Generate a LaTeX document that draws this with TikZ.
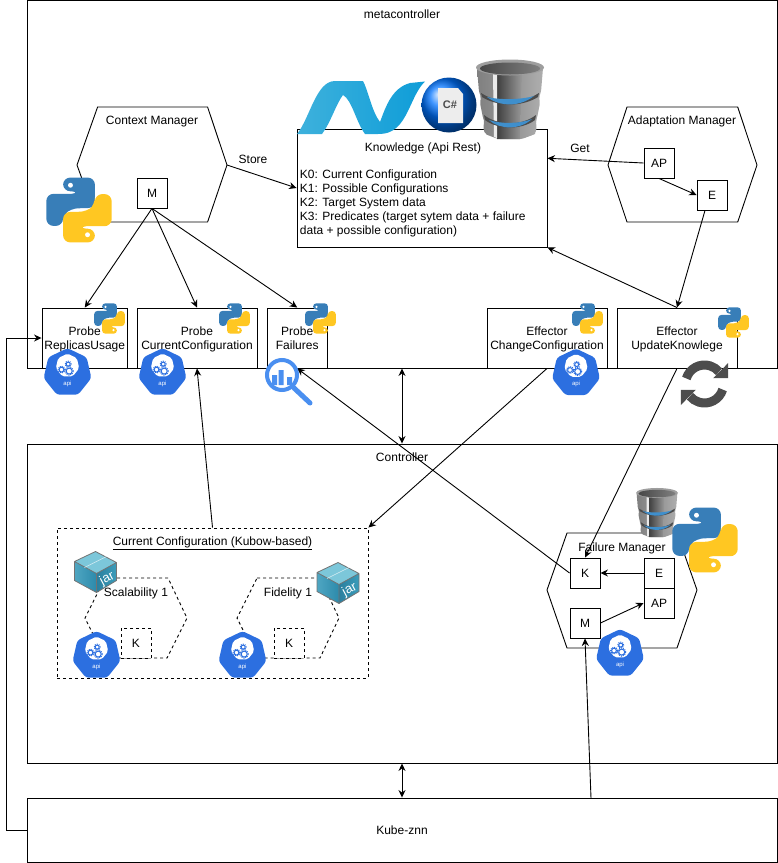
\documentclass[tikz,border=0pt]{standalone}
\usepackage{fontspec}
\setmainfont{Liberation Sans}
\usetikzlibrary{arrows.meta,calc}
\definecolor{pyblue}{HTML}{387EB8}
\definecolor{pyyellow}{HTML}{FFC722}
\definecolor{apiblue}{HTML}{2C6FE0}
\definecolor{lensblue}{HTML}{4A8FF0}
\definecolor{syncgrey}{HTML}{4D4D4D}
\definecolor{jartop}{HTML}{7CC7DA}
\definecolor{jarleft}{HTML}{4FA6C2}
\definecolor{jarlow}{HTML}{2C8AAB}
\definecolor{jarright}{HTML}{2B7F9E}
\definecolor{jarrim}{HTML}{3B9CBA}
\definecolor{dbband}{HTML}{3F8FCC}
\definecolor{netleft}{HTML}{3EB1DC}
\definecolor{netright}{HTML}{0E9DD8}
\tikzset{
  every node/.style={font=\fontsize{12}{14}\selectfont,text depth=0pt},
  box/.style={draw,align=center,inner sep=0pt,fill=white},
  container/.style={draw,inner sep=0pt,minimum width=750pt},
  pyicon/.pic={
    \begin{scope}[scale=#1/24,shift={(-12,-12)}]
    \fill[pyblue,rounded corners=#1/9*1pt] (6.2,0.2) -- (17.8,0.2) -- (17.8,11.3) -- (9,11.4) -- (6.2,14) -- (6.2,17.8) -- (0.1,17.8) -- (0.1,6.1) -- (12,6.1) -- (12,5.2) -- (6.2,5.2) -- cycle;
    \fill[white] (8.9,3) circle [radius=0.9];
    \begin{scope}[rotate around={180:(12,12)}]
    \fill[pyyellow,rounded corners=#1/9*1pt] (6.2,0.2) -- (17.8,0.2) -- (17.8,11.3) -- (9,11.4) -- (6.2,14) -- (6.2,17.8) -- (0.1,17.8) -- (0.1,6.1) -- (12,6.1) -- (12,5.2) -- (6.2,5.2) -- cycle;
    \fill[white] (8.9,3) circle [radius=0.9];
    \end{scope}
    \end{scope}
  },
  apiicon/.pic={
    \begin{scope}[y=1pt]
    \fill[apiblue,rounded corners=3pt] (90:24.5) -- (141.4:24.5) -- (192.9:24.5) -- (244.3:24.5) -- (295.7:24.5) -- (347.1:24.5) -- (38.6:24.5) -- cycle;
    \fill[white,rounded corners=2pt] ($(0,7)+(90:12)$) -- ($(0,7)+(141.4:12)$) -- ($(0,7)+(192.9:12)$) -- ($(0,7)+(244.3:12)$) -- ($(0,7)+(295.7:12)$) -- ($(0,7)+(347.1:12)$) -- ($(0,7)+(38.6:12)$) -- cycle;
    \draw[apiblue,line width=1pt] (-6,3) circle [radius=2.4] (0.7,8.5) circle [radius=2] (1.7,1.5) circle [radius=3];
    \draw[apiblue,line width=1pt,dash pattern=on 1pt off 1pt] (-6,3) circle [radius=3.4] (0.7,8.5) circle [radius=3] (1.7,1.5) circle [radius=4.1];
    \node[white,font=\fontsize{6}{7}\selectfont,inner sep=0pt] (label) at (0,-10.5) {api};
    \end{scope}
  },
  dbicon/.pic={
    \begin{scope}[scale=#1/68]
    \shade[left color=black!50,middle color=black!52,right color=black!32,rounded corners=#1/34*1pt] (-33,-32) -- (-31,-8) -- (-29,-3) -- (-30,3) -- (-27,18) -- (-25.5,22) -- (-27,27) -- (-25,34) -- (-12,39) -- (12,39) -- (25,34) -- (27,27) -- (25.5,22) -- (27,18) -- (30,3) -- (29,-3) -- (31,-8) -- (33,-32) -- cycle;
    \shade[left color=black!75,right color=black!40] (-13,-26) -- (12,-26) -- (10,39) -- (-13,39) -- cycle;
    \shade[left color=black!40,right color=black!32] (12,-26) -- (31,-30) -- (25,34) -- (10,39) -- cycle;
    \fill[white!92!black] (-17,-26) -- (-13,-25) -- (-13,38) -- (-16,37) -- cycle;
    \fill[black!70] (-29,-7) .. controls (-12,4) and (12,4) .. (29,-7) -- (28,-3) .. controls (12,7) and (-12,7) .. (-28,-3) -- cycle;
    \fill[black!70] (-26,15) .. controls (-12,26) and (12,26) .. (26,15) -- (25,20) .. controls (12,30) and (-12,30) .. (-25,20) -- cycle;
    \fill[dbband] (-23,-3) .. controls (-10,7) and (10,7) .. (24,-4) .. controls (10,0) and (-10,0) .. (-23,-3) -- cycle;
    \fill[dbband] (-21,20) .. controls (-10,30) and (10,30) .. (22,19) .. controls (10,24) and (-10,24) .. (-21,20) -- cycle;
    \fill[black!38] (0,-32.5) ellipse [x radius=34,y radius=8];
    \shade[left color=black!72,right color=black!50] (0,-31.5) ellipse [x radius=30,y radius=6];
    \end{scope}
  },
  jaricon/.pic={
    \fill[jartop,rounded corners=1pt] (0,-20) -- (21,-9) -- (1,2) -- (-21,-10) -- cycle;
    \shade[left color=jarleft,right color=jarlow] (-21,-10) -- (1,2) -- (1,21) -- (-21,9) -- cycle;
    \shade[left color=jarright,right color=jarrim] (21,-9) -- (1,2) -- (1,21) -- (21,9) -- cycle;
    \draw[black!55,line width=0.8pt,line join=round] (0,-20) -- (21,-9) -- (21,9) -- (1,21) -- (-21,9) -- (-21,-10) -- cycle (-21,-10) -- (1,2) -- (21,-9) (1,2) -- (1,21);
    \draw[white!70!jartop,line width=0.6pt] (-11,-4) -- (11,-15);
    \node[white,font=\fontsize{13}{14}\selectfont,rotate=28,inner sep=0pt] (label) at (11,6) {jar};
  },
}
\begin{document}
\begin{tikzpicture}[x=1pt,y=-1pt,>={Stealth[length=7.5pt,width=7pt]},line width=0.9pt]
\useasboundingbox (0,0) rectangle (778,863);
% containers
\node[container,minimum height=367.5pt] (meta) at (402,184.25) {};
\node[container,minimum height=319pt] (ctrl) at (402,603.5) {};
\node[container,minimum height=64pt] (kube) at (402,830) {Kube-znn};
\node (metalabel) at (402,14) {metacontroller};
\node (ctrllabel) at (402,457) {Controller};
% context manager
\draw (97.6,107) -- (207.6,107) -- (227,165) coordinate (ctxright) -- (207.6,222) -- (97.6,222) -- (77,165) -- cycle;
\node (ctxlabel) at (152,120) {Context Manager};
\node[box,minimum width=30pt,minimum height=30pt] (ctxM) at (152,193) {M};
% knowledge
\node[box,fill=none,minimum width=250pt,minimum height=118pt] (know) at (422,188) {};
\node (knowtitle) at (423,147) {Knowledge (Api Rest)};
\node[anchor=west,align=left,inner sep=0pt] (knowtext) at (299.5,202.5) {K0: Current Configuration\\K1: Possible Configurations\\K2: Target System data\\K3: Predicates (target sytem data + failure\\data + possible configuration)};
\node (storelabel) at (253,159) {Store};
\node (getlabel) at (580,148) {Get};
% adaptation manager
\draw (627,107) -- (737.7,107) -- (757,165) -- (737.7,222) -- (627,222) -- (608,165) -- cycle;
\node (adaptlabel) at (682,120) {Adaptation Manager};
\node[box,minimum width=30pt,minimum height=30pt] (adaptAP) at (659,163) {AP};
\node[box,minimum width=30pt,minimum height=30pt] (adaptE) at (712,195) {E};
% probes and effectors
\node[box,minimum width=85.5pt,minimum height=60pt] (probeRep) at (84.75,338) {Probe\\ReplicasUsage};
\node[box,minimum width=120pt,minimum height=60pt] (probeCur) at (197,338) {Probe\\CurrentConfiguration};
\node[box,minimum width=60.5pt,minimum height=60pt] (probeFail) at (297.25,338) {Probe\\Failures};
\node[box,minimum width=120pt,minimum height=60pt] (effChange) at (547,338) {Effector\\ChangeConfiguration};
\node[box,minimum width=120pt,minimum height=60pt] (effUpdate) at (677,338) {Effector\\UpdateKnowlege};
% current configuration
\node[draw,dashed,inner sep=0pt,minimum width=311pt,minimum height=150pt] (config) at (212.5,603) {};
\node (configlabel) at (212.5,541) {\underline{Current Configuration (Kubow-based)}};
\draw [dashed] (105,578) -- (168,578) -- (187,618) -- (167,658) -- (105,658) -- (85,618) -- cycle;
\node (scalelabel) at (136,592) {Scalability 1};
\node[box,dashed,minimum width=30pt,minimum height=30pt] (scaleK) at (136,643) {K};
\draw [dashed] (257,578) -- (320,578) -- (339,618) -- (320,658) -- (257,658) -- (237,618) -- cycle;
\node (fidlabel) at (288,592) {Fidelity 1};
\node[box,dashed,minimum width=30pt,minimum height=30pt] (fidK) at (289,643) {K};
% failure manager
\draw (567,533) -- (677,533) -- (697,590) -- (677,648) -- (567,648) -- (547,590) -- cycle;
\node (faillabel) at (622,547) {Failure Manager};
\node[box,minimum width=30pt,minimum height=30pt] (failK) at (585,573) {K};
\node[box,minimum width=30pt,minimum height=30pt] (failM) at (585,623) {M};
\node[box,minimum width=30pt,minimum height=30pt] (failE) at (659,573) {E};
\node[box,minimum width=30pt,minimum height=30pt] (failAP) at (659,603) {AP};
\coordinate (kubeout) at (591,798);
% connectors
\draw [->] (ctxright) -- (know.west);
\draw [->] (adaptAP.west) -- ($(know.north east)!0.25!(know.south east)$);
\draw [->] (adaptAP.south) -- (adaptE.west);
\draw [->] ([xshift=-7pt]adaptE.south) -- (effUpdate.north);
\draw [->] (effUpdate.north) -- (know.south east);
\draw [->] (ctxM.south) -- (probeRep.north);
\draw [->] (ctxM.south) -- (probeCur.north);
\draw [->] (ctxM.south) -- (probeFail.north);
\draw [->] (kube.west) -- ++(-20,0) |- (probeRep.west);
\draw [<->] (meta.south) -- (ctrl.north);
\draw [<->] (ctrl.south) -- (kube.north);
\draw [->] (config.north) -- (probeCur.south);
\draw [->] (effChange.south) -- (config.north east);
\draw [->] (effUpdate.south) -- (failK.north);
\draw [->] (failK.west) -- (probeFail.south);
\draw [->] (failE.west) -- (failK.east);
\draw [->] (failM.east) -- (failAP.west);
\draw [->] (kubeout) -- (failM.south);
% dotnet logo
\shade[left color=netleft,right color=netright] (297,134) .. controls (310,118) and (316,81) .. (335,81) -- (363,81) .. controls (368,90) and (372,112) .. (380,122) .. controls (386,106) and (392,88) .. (410,83) -- (425,81.5) .. controls (414,92) and (410,112) .. (400,124) .. controls (394,131) and (388,134) .. (378,134) -- (365,134) .. controls (356,122) and (352,100) .. (343,95) .. controls (336,104) and (331,122) .. (322,134) -- cycle;
\shade[ball color=blue!55!cyan] (449,105) circle [radius=27.5];
\fill[white!93!black] (438,88) -- (458,88) -- (463,94) -- (463,123) -- (438,123) -- cycle;
\node[black!70,font=\bfseries\fontsize{11}{12}\selectfont,inner sep=0pt] (csharp) at (450,105) {C\#};
\pic (dbknow) at (510,100) {dbicon=68};
\pic (dbfail) at (657,513) {dbicon=42};
% python logos
\pic (pyctx) at (79,210) {pyicon=66};
\pic (pyrep) at (109.5,318.5) {pyicon=31};
\pic (pycur) at (234.5,318.5) {pyicon=31};
\pic (pyfail) at (320.5,318.5) {pyicon=31};
\pic (pychange) at (587.5,318.5) {pyicon=31};
\pic (pyupdate) at (733.5,322.5) {pyicon=31};
\pic (pyfm) at (705,540) {pyicon=66};
% api logos
\pic (apirep) at (67.5,372.6) {apiicon};
\pic (apicur) at (162.5,372.6) {apiicon};
\pic (apichange) at (576,373) {apiicon};
\pic (apiscale) at (96.5,655.6) {apiicon};
\pic (apifid) at (242.5,655.6) {apiicon};
\pic (apifm) at (620,653.6) {apiicon};
% jars
\pic (jarscale) at (95.5,571.5) {jaricon};
\pic (jarfid) at (338,582.5) {jaricon};
% lens
\fill[white] (282,375) circle [radius=15];
\draw[lensblue,line width=4pt] (282,375) circle [radius=15];
\draw[lensblue,line width=5pt,line cap=round] (294,388) -- (310,403);
\fill[lensblue] (272,375) rectangle (277,385) (278.5,370) rectangle (283.5,385) (287,377) rectangle (292,385);
% sync
\begin{scope}[shift={(704.5,384)},y=1pt]
\draw[syncgrey,line width=9pt] (163:19) arc [start angle=163,end angle=40,radius=19];
\fill[syncgrey] (23.7,21) -- (23.7,5.8) -- (8.7,5.8) -- cycle;
\draw[syncgrey,line width=9pt] (-17:19) arc [start angle=-17,end angle=-140,radius=19];
\fill[syncgrey] (-23.7,-21) -- (-23.7,-5.8) -- (-8.7,-5.8) -- cycle;
\end{scope}
\end{tikzpicture}
\end{document}
